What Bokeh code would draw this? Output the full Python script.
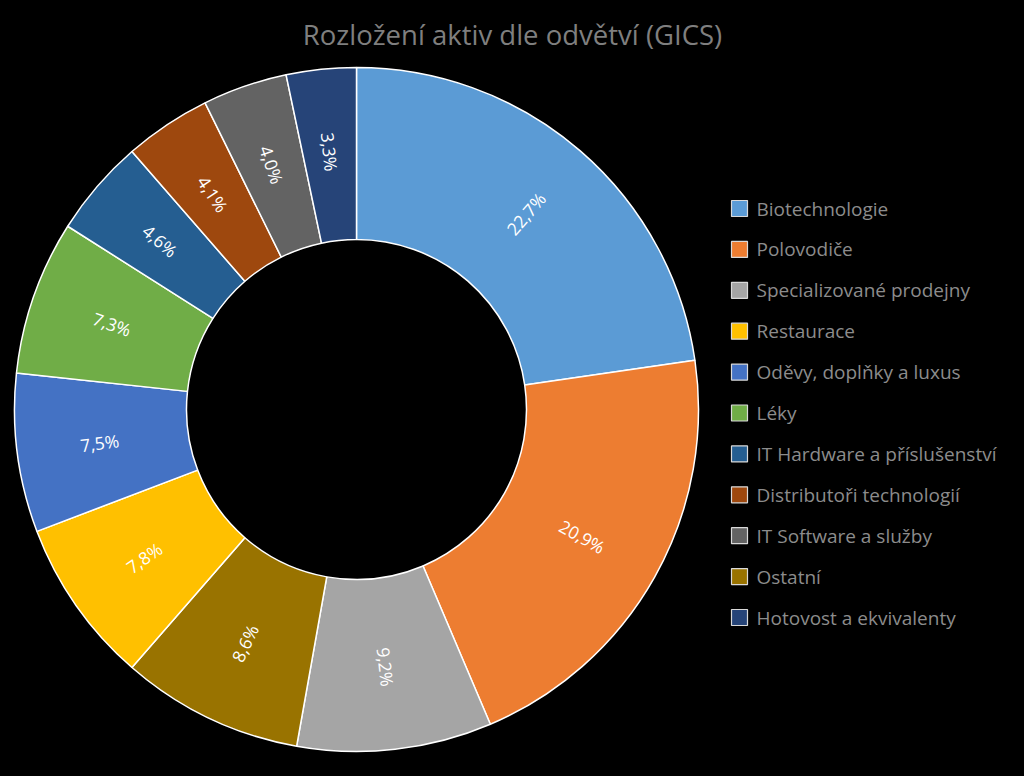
import numpy as np
from bokeh.plotting import figure
from bokeh.models import Range1d, ColumnDataSource
from bokeh.core.properties import value
from bokeh.embed import file_html
from bokeh.resources import INLINE

# --- data -------------------------------------------------------------
slice_names = ["Biotechnologie", "Polovodiče", "Specializované prodejny", "Ostatní",
               "Restaurace", "Oděvy, doplňky a luxus", "Léky", "IT Hardware a příslušenství",
               "Distributoři technologií", "IT Software a služby", "Hotovost a ekvivalenty"]
slice_values = [22.7, 20.9, 9.2, 8.6, 7.8, 7.5, 7.3, 4.6, 4.1, 4.0, 3.3]
slice_colors = ["#5B9BD5", "#ED7D31", "#A5A5A5", "#997300", "#FFC000", "#4472C4",
                "#70AD47", "#255E91", "#9E480E", "#636363", "#264478"]
legend_order = ["Biotechnologie", "Polovodiče", "Specializované prodejny", "Restaurace",
                "Oděvy, doplňky a luxus", "Léky", "IT Hardware a příslušenství",
                "Distributoři technologií", "IT Software a služby", "Ostatní",
                "Hotovost a ekvivalenty"]
title_text = "Rozložení aktiv dle odvětví (GICS)"

FONT = "Open Sans"
W, H = 1008, 760
IMG_H = 776

def fy(y_img):
    return IMG_H - y_img

cx, cy = 356, fy(409)
r_out, r_in = 342, 170

vals = np.array(slice_values)
frac = vals / vals.sum()
cum = np.concatenate([[0], np.cumsum(frac)])
start = np.pi / 2 - 2 * np.pi * cum[:-1]
end = np.pi / 2 - 2 * np.pi * cum[1:]
mid = (start + end) / 2

p = figure(width=W, height=H, output_backend="svg", toolbar_location=None,
           x_range=Range1d(0, W), y_range=Range1d(IMG_H - H, IMG_H),
           min_border=0, background_fill_color="black", border_fill_color="black",
           outline_line_color=None)
p.axis.visible = False
p.grid.visible = False

wsrc = ColumnDataSource(dict(x=[cx] * len(vals), y=[cy] * len(vals),
                             start=end, end=start, color=slice_colors))
p.annular_wedge(x="x", y="y", inner_radius=r_in, outer_radius=r_out,
                start_angle="start", end_angle="end", fill_color="color",
                line_color="white", line_width=1.5, source=wsrc)

# labels
r_lab = (r_in + r_out) / 2 + 3
lx = cx + r_lab * np.cos(mid)
ly = cy + r_lab * np.sin(mid)
ang = []
for m in mid:
    a = (m + np.pi) % (2 * np.pi) - np.pi
    if a > np.pi / 2:
        a -= np.pi
    elif a < -np.pi / 2:
        a += np.pi
    ang.append(a)
labels = [f"{v:.1f}%".replace(".", ",") for v in slice_values]
p.text(x=lx, y=ly, text=labels, angle=ang, text_align="center", text_baseline="middle",
       text_color="white", text_font=value(FONT), text_font_size="17.5px")

# title
p.text(x=[512], y=[fy(34)], text=[title_text], text_align="center", text_baseline="middle",
       text_color="#7F7F7F", text_font=value(FONT), text_font_size="27.5px")

# legend
color_of = dict(zip(slice_names, slice_colors))
n = len(legend_order)
ly0, dy = 208, 40.9
leg_y = [fy(ly0 + i * dy) for i in range(n)]
p.rect(x=[739] * n, y=leg_y, width=16, height=16,
       fill_color=[color_of[k] for k in legend_order], line_color="#D9D9D9", line_width=1.2)
p.text(x=[756] * n, y=leg_y, text=legend_order, text_align="left", text_baseline="middle",
       text_color="#8C8C8C", text_font=value(FONT), text_font_size="19px")

html = file_html(p, INLINE)
html = html.replace("<body>", '<body style="background:#000;">')
open("out.html", "w").write(html)
